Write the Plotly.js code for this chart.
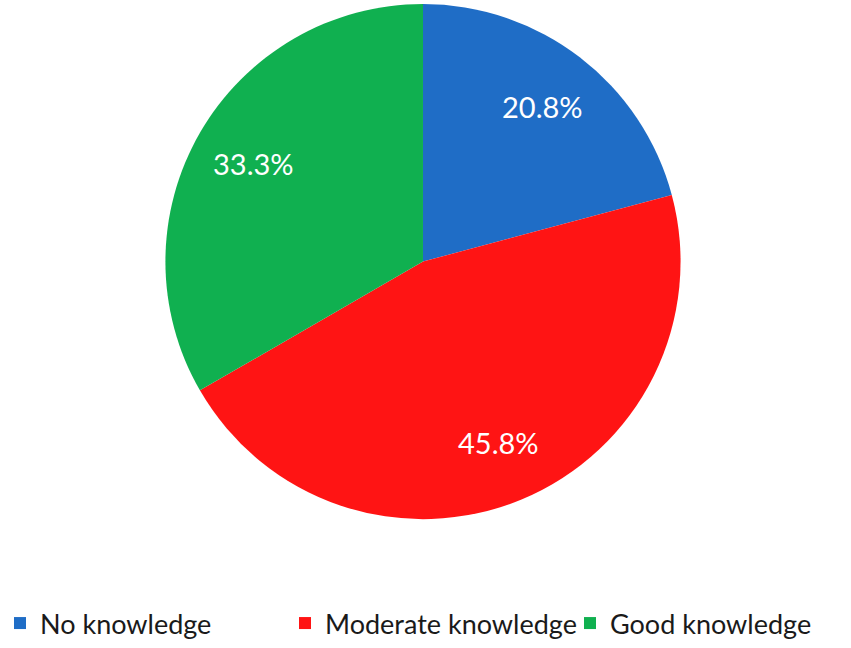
<!DOCTYPE html>
<html>
<head>
<meta charset="utf-8">
<script src="https://cdn.plot.ly/plotly-3.0.1.min.js"></script>
<style>
  html, body { margin: 0; padding: 0; background: #fff; }
  #plot { width: 851px; height: 648px; }
</style>
</head>
<body>
<div id="plot"></div>
<script>
// 回答の区分と人数 (24人中)
const categories = ['No knowledge', 'Moderate knowledge', 'Good knowledge'];
const counts = [5, 11, 8];
const colors = ['#1f6dc6', '#ff1414', '#10b050'];

const W = 851, H = 648;
const L = 24; // 凡例を左端に寄せるための左マージン
const B = 48; // 凡例用の下マージン
const plotW = W - L;
const plotH = H - B;
const domX = [0.1705, 0.7944];
const domY = [0.1333, 0.9933];

// ラベルはスライスの中央角度、半径の76%の位置に置く
const total = counts.reduce((s, v) => s + v, 0);
const rPx = Math.min((domX[1] - domX[0]) * plotW, (domY[1] - domY[0]) * plotH) / 2;
const cx = (domX[0] + domX[1]) / 2;
const cy = (domY[0] + domY[1]) / 2;
const annotations = [];
let cum = 0;
counts.forEach((v) => {
  const mid = (cum + v / 2) / total * 2 * Math.PI;
  cum += v;
  annotations.push({
    xref: 'paper', yref: 'paper',
    x: cx + 0.76 * rPx * Math.sin(mid) / plotW,
    y: cy + 0.76 * rPx * Math.cos(mid) / plotH,
    xanchor: 'center',
    yanchor: 'middle',
    text: (v / total * 100).toFixed(1) + '%',
    showarrow: false,
    font: { family: 'Lato, sans-serif', size: 29, color: '#ffffff' }
  });
});

const trace = {
  type: 'pie',
  labels: categories,
  values: counts,
  sort: false,
  direction: 'clockwise',
  rotation: 0,
  marker: { colors: colors, line: { width: 0 } },
  textinfo: 'none',
  hoverinfo: 'label+percent',
  domain: { x: domX, y: domY }
};

const layout = {
  width: W,
  height: H,
  margin: { l: L, r: 0, t: 0, b: B },
  paper_bgcolor: '#ffffff',
  showlegend: true,
  annotations: annotations,
  legend: {
    orientation: 'h',
    x: -L / plotW,
    xanchor: 'left',
    y: 0,
    yanchor: 'top',
    font: { family: 'Lato, sans-serif', size: 27, color: '#1a1a1a' },
    entrywidth: 240,
    entrywidthmode: 'pixels'
  }
};

Plotly.newPlot('plot', [trace], layout, { displayModeBar: false });
</script>
</body>
</html>
